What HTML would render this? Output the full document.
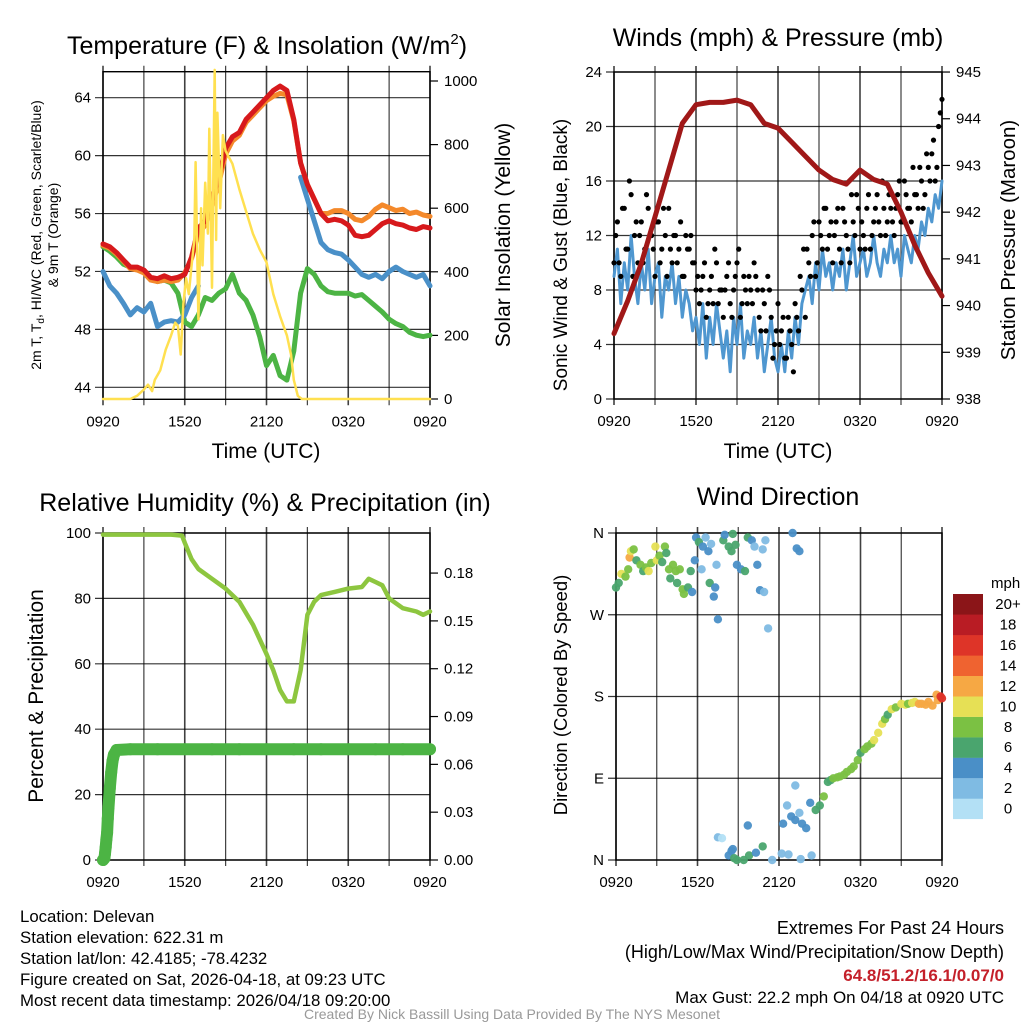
<!DOCTYPE html>
<html><head><meta charset="utf-8">
<style>
html,body{margin:0;padding:0;background:#fff;}
svg{display:block;font-family:"Liberation Sans",sans-serif;}
</style></head>
<body>
<svg id="c" width="1024" height="1024" viewBox="0 0 1024 1024" xmlns="http://www.w3.org/2000/svg">
<rect x="0" y="0" width="1024" height="1024" fill="#fff"/>
<text x="267" y="54" font-size="25" text-anchor="middle">Temperature (F) &amp; Insolation (W/m<tspan font-size="15" dy="-10">2</tspan><tspan dy="10">)</tspan></text>
<text x="778" y="46" font-size="25" text-anchor="middle">Winds (mph) &amp; Pressure (mb)</text>
<text x="265" y="511" font-size="25" text-anchor="middle">Relative Humidity (%) &amp; Precipitation (in)</text>
<text x="778" y="505" font-size="25" text-anchor="middle">Wind Direction</text>
<text x="266" y="458" font-size="21" text-anchor="middle">Time (UTC)</text>
<text x="778" y="458" font-size="21" text-anchor="middle">Time (UTC)</text>
<text transform="translate(41,235) rotate(-90)" font-size="14" text-anchor="middle">2m T, T<tspan font-size="10" dy="3">d</tspan><tspan dy="-3">, HI/WC (Red, Green, Scarlet/Blue)</tspan></text>
<text transform="translate(58,235) rotate(-90)" font-size="14" text-anchor="middle">&amp; 9m T (Orange)</text>
<text transform="translate(510,235) rotate(-90)" font-size="21" text-anchor="middle">Solar Insolation (Yellow)</text>
<text transform="translate(567,255) rotate(-90)" font-size="19" text-anchor="middle">Sonic Wind &amp; Gust (Blue, Black)</text>
<text transform="translate(1015,240) rotate(-90)" font-size="20.5" text-anchor="middle">Station Pressure (Maroon)</text>
<text transform="translate(43,696) rotate(-90)" font-size="21" text-anchor="middle">Percent &amp; Precipitation</text>
<text transform="translate(567,695) rotate(-90)" font-size="18.5" text-anchor="middle">Direction (Colored By Speed)</text>
<g font-size="16.8">
<text x="20" y="922">Location: Delevan</text>
<text x="20" y="943">Station elevation: 622.31 m</text>
<text x="20" y="964">Station lat/lon: 42.4185; -78.4232</text>
<text x="20" y="985">Figure created on Sat, 2026-04-18, at 09:23 UTC</text>
<text x="20" y="1006">Most recent data timestamp: 2026/04/18 09:20:00</text>
</g>
<g text-anchor="end">
<text x="1004" y="934" font-size="18">Extremes For Past 24 Hours</text>
<text x="1004" y="958" font-size="18">(High/Low/Max Wind/Precipitation/Snow Depth)</text>
<text x="1004" y="981" font-size="17" fill="#c4202a" font-weight="bold">64.8/51.2/16.1/0.07/0</text>
<text x="1004" y="1003" font-size="17">Max Gust: 22.2 mph On 04/18 at 0920 UTC</text>
</g>
<text x="512" y="1019" font-size="14" fill="#999" text-anchor="middle">Created By Nick Bassill Using Data Provided By The NYS Mesonet</text>
</svg>
<script>
// ---------- data ----------
const hT = [0,0.5,1,1.5,2,2.5,3,3.5,4,4.5,5,5.5,6,6.5,7,7.5,8,8.5,9,9.5,10,10.5,11,11.5,12,12.5,13,13.5,14,14.5,15,15.5,16,16.5,17,17.5,18,18.5,19,19.5,20,20.5,21,21.5,22,22.5,23,23.5,24];
const tempRed = [53.9,53.7,53.3,52.8,52.3,52.3,52.1,51.6,51.5,51.7,51.5,51.6,51.8,53.0,55.0,55.5,57.0,58.5,60.5,61.3,61.6,62.5,63.0,63.5,64.0,64.5,64.8,64.5,62.5,59.5,58.0,57.0,56.0,55.5,55.6,55.5,55.2,54.5,54.4,54.5,54.9,55.3,55.5,55.3,55.2,55.0,54.9,55.1,55.0];
const temp9m = [53.8,53.6,53.2,52.7,52.2,52.1,51.9,51.4,51.3,51.4,51.3,51.4,51.9,52.9,54.6,55.2,56.6,58.1,60.1,61.0,61.4,62.3,62.8,63.3,63.8,64.1,64.3,64.2,62.4,59.5,58.0,57.0,56.0,56.0,56.2,56.2,56.0,55.6,55.5,55.8,56.3,56.6,56.4,56.2,56.3,56.0,56.1,55.9,55.8];
const heatWC = [52.0,51.0,50.5,49.8,49.0,49.5,49.2,49.8,48.2,48.5,48.6,48.5,49.0,50.2,51.0,null,null,null,null,null,null,null,null,null,null,null,null,null,null,58.5,57.0,55.5,54.0,53.5,53.3,53.2,52.8,52.3,51.8,51.6,51.8,51.5,52.0,52.3,52.0,51.8,51.6,51.8,51.0];
const dewpt = [53.7,53.4,53.0,52.5,52.3,52.2,52.0,51.5,51.3,51.4,51.2,50.5,48.5,48.2,49.0,50.2,50.0,50.5,50.8,51.8,50.5,50.0,49.0,47.5,45.5,46.2,44.8,44.5,46.5,50.5,52.2,51.8,51.0,50.6,50.5,50.5,50.5,50.3,50.4,50.0,49.6,49.2,48.7,48.4,48.2,47.8,47.6,47.5,47.6];
const solarT = [0,2,2.5,3,3.3,3.6,3.8,4.2,4.6,5.0,5.3,5.5,5.7,5.9,6.1,6.3,6.5,6.7,6.8,7.0,7.2,7.3,7.5,7.7,7.8,8.0,8.1,8.2,8.3,8.4,8.6,8.8,9.0,9.5,10,10.5,11,11.5,12,12.5,13,13.5,13.8,14,14.3,14.6,24];
const solarV = [0,0,10,30,45,25,60,90,155,200,240,230,140,300,380,330,420,500,745,250,600,420,680,520,850,350,720,1035,500,900,600,830,780,740,660,590,520,470,430,330,260,200,140,60,10,0,0];
const pressT = [0,1,2,3,4,5,6,7,8,9,10,11,12,13,14,15,16,17,18,19,20,21,22,23,24];
const pressure = [939.4,940.1,940.9,941.9,942.9,943.9,944.3,944.35,944.35,944.4,944.3,943.9,943.8,943.5,943.2,942.9,942.7,942.6,942.9,942.7,942.6,942.0,941.3,940.7,940.2];
const windSpd = [9,11,7,10,8,12,9,7,10, 8,11,7,9,10,6,9,8, 10,7,9,6,8,7,5,6, 4,7,3,6,4,7,5,3, 5,2,6,4,7,3,5,4, 6,3,5,2,4,6,3,2, 4,2,5,3,6,4,7,8, 9,7,10,8,11,9,10,8, 10,9,11,8,10,12,9,10, 11,9,10,12,10,9,11,10, 12,10,11,9,12,11,10,12, 11,13,12,14,13,15,14,16];
const gust = [10,13,9,14,11,15,12,10,13, 11,14,12,9,13,11,12,14, 10,12,11,9,12,11,10,8, 7,9,6,8,7,10,8,6, 9,7,8,10,6,9,7,8, 10,8,5,7,9,6,4,7, 5,3,6,4,7,5,8,6, 10,12,9,13,11,14,12,10, 13,11,14,12,10,13,15,11, 12,14,11,13,15,12,14,13, 14,12,15,13,16,14,13,15, 14,16,15,17,18,16,20,22];
const gustB = [12,10,14,11,16,9,13,12, 10,15,12,11,13,10,14,9, 11,12,10,13,9,11,12,10, 9,8,10,7,9,11,7,8, 8,10,6,9,11,7,8,9, 7,9,6,8,5,8,3,5, 4,6,3,5,2,6,9,11, 11,9,13,10,12,14,11,13, 12,14,10,13,11,15,12,14, 13,11,15,12,14,13,16,12, 15,13,14,16,13,15,14,17, 15,17,14,18,16,19,17,21];
const rhT = [0,1,2,3,4,5,5.8,6,6.5,7,8,9,10,11,12,12.5,13,13.5,14,14.5,15,15.5,16,17,18,19,19.5,20,20.5,21,22,23,23.5,24];
const rh = [99.5,99.5,99.5,99.5,99.5,99.5,99.2,97,92,89,86,83,79,72,63,58,52,48.5,48.5,58,75,79,81,82,83,83.5,86,85,84,80,77,76,75,76];
const precipT = [0,0.1,0.15,0.2,0.25,0.3,0.35,0.4,0.5,0.6,0.7,0.8,1,2,4,6,8,10,12,14,16,18,20,22,24];
const precip = [0,0.001,0.004,0.008,0.013,0.017,0.026,0.033,0.045,0.055,0.062,0.066,0.069,0.0695,0.0695,0.0695,0.0695,0.0695,0.0695,0.0695,0.0695,0.0695,0.0695,0.0695,0.0695];
const dirT = [0,0.2,0.4,0.7,0.9,1.0,1.1,1.3,1.5,1.8,2.0,2.2,2.4,2.6,2.9,3.0,3.2,3.4,3.6,3.7,3.9,4.0,4.2,4.4,4.5,4.7,4.9,5.0,5.3,5.5,5.6,5.8,5.9,6.1,6.3,6.4,6.6,6.8,6.9,7.0,7.2,7.3,7.4,7.5,7.9,8.0,8.3,8.5,8.6,8.8,8.9,9.2,9.5,9.7,10.0,10.2,10.4,10.6,10.8,11.0,10.9,11.2,13.0,13.3,13.5,
 7.5,7.8,8.6,8.5,8.3,8.7,8.9,9.4,9.8,10.3,9.7,10.8,11.5,12.2,12.7,13.6,14.4,12.3,12.6,12.9,13.2,13.5,13.7,14.0,14.3,13.2,14.7,15.0,15.3,
 15.6,15.8,16.0,16.3,16.5,16.8,17.0,17.3,17.5,17.8,18.0,18.3,18.5,18.8,19.0,19.3,19.6,19.8,20.0,20.3,20.6,21.0,21.3,21.5,21.8,22.0,22.3,22.5,22.8,23.0,23.3,23.6,23.7,23.9,24];
const dirDeg = [300,305,315,312,320,333,340,342,330,325,318,322,318,327,345,330,335,328,345,338,320,310,325,318,305,320,298,293,300,318,295,330,355,350,320,345,355,340,305,348,290,300,325,265,352,358,345,340,359,347,325,320,318,355,352,345,325,297,342,352,295,255,360,343,340,
 25,24,12,10,5,2,0,0,5,8,38,15,0,7,6,1,5,40,60,48,44,52,40,35,63,82,55,60,70,
 86,88,90,91,92,94,97,100,103,110,118,122,125,128,132,140,150,155,160,166,168,172,171,172,173,174,172,172,171,174,170,182,176,180,178];
const dirSpd = [6,7,10,9,8,13,10,9,6,8,7,8,10,9,10,10,8,7,8,6,8,7,8,8,6,8,8,9,6,6,4,5,4,6,3,4,3,4,6,3,4,5,3,4,6,4,6,6,6,6,4,4,6,6,4,2,4,4,2,2,2,2,4,4,4,
 2,0,4,4,4,6,6,6,6,4,4,6,2,2,2,2,2,4,2,4,4,2,4,4,4,2,6,6,8,
 6,7,8,8,8,8,8,8,8,8,6,8,8,8,10,10,10,8,6,10,8,10,10,8,10,10,12,12,12,12,12,12,12,16,16];
const cbLabels = ["0","2","4","6","8","10","12","14","16","18","20+"];
const cbColors = ["#b3e0f5","#7fbbe3","#4a8fc7","#4aa56e","#7bc143","#e6e055","#f6a844","#ef6330","#de3428","#b91c24","#8b1518"];
const timeLabels = ["0920","1520","2120","0320","0920"];
const tempTicks = [44,48,52,56,60,64];
const solarTicks = [0,200,400,600,800,1000];
const windTicks = [0,4,8,12,16,20,24];
const pressTicks = [938,939,940,941,942,943,944,945];
const rhTicks = [0,20,40,60,80,100];
const prTicks = ["0.00","0.03","0.06","0.09","0.12","0.15","0.18"];
const dirLabels = ["N","E","S","W","N"];

// ---------- scales ----------
const X1 = t => 103 + t*327/24;
const YT = v => 387.3 - (v-44)*14.48;
const YI = v => 399 - v*0.318;
const X2 = t => 614 + t*328/24;
const YW = v => 399 - v*13.625;
const YP = v => 399 - (v-938)*46.71;
const X3 = t => 103 + t*327/24;
const YR = v => 860 - v*3.27;
const YPr = v => 860 - v*1594;
const X4 = t => 616 + t*326/24;
const YD = d => 860 - d*327/360;

const NS = "http://www.w3.org/2000/svg";
const svg = document.getElementById('c');
function mk(tag, attrs, parent){ const e=document.createElementNS(NS,tag); for(const k in attrs) e.setAttribute(k,attrs[k]); (parent||svg).appendChild(e); return e; }
function pathD(xs, ys, fx, fy){ let d=''; let pen=false; for(let i=0;i<xs.length;i++){ if(ys[i]===null){pen=false;continue;} d += (pen?'L':'M') + fx(xs[i]).toFixed(1) + ',' + fy(ys[i]).toFixed(1); pen=true; } return d; }

// ---------- frames/grids ----------
function panel(name, x0,x1,y0,y1, yl, yr, yFn, yrFn, ylabels, yrlabels){
  const g = mk('g',{});
  
  
  for(let h=0;h<=24;h+=3){
    const x = x0 + h*(x1-x0)/24;
    const ln = mk('line',{x1:x,x2:x,y1:y0-6,y2:y1+6,stroke:'#000','stroke-width':(h%6?1.2:1.6),'stroke-opacity':0.75},g);
    
    
  }
  yl.forEach((v,i)=>{
    const y=yFn(v);
    const ln = mk('line',{x1:x0-8,x2:x1,y1:y,y2:y,stroke:'#000','stroke-width':1.2,'stroke-opacity':0.8},g);
    
    
    const tx = mk('text',{x:x0-12,y:y+5,'font-size':15,'text-anchor':'end'},g);
    tx.textContent = ylabels[i];
    
    
  });
  if(yr){
    yr.forEach((v,i)=>{
      const y=yrFn(v);
      const ln = mk('line',{x1:x1,x2:x1+8,y1:y,y2:y,stroke:'#000','stroke-width':1.2},g);
      
      
      const tx = mk('text',{x:x1+14,y:y+5,'font-size':15},g);
      tx.textContent = yrlabels[i];
      
      
    });
  }
  const fr = mk('rect',{x:x0,y:y0,width:x1-x0,height:y1-y0,fill:'none',stroke:'#000','stroke-width':1.4},g);
  
  
  timeLabels.forEach((l,i)=>{
    const tx = mk('text',{x:x0+i*(x1-x0)/4,y:y1+27,'font-size':15,'text-anchor':'middle'},g);
    tx.textContent = l;
    
    
  });
}
panel('temperature',103,430,71.7,399.3,tempTicks,solarTicks,YT,YI,tempTicks.map(String),solarTicks.map(String));
panel('winds',614,942,72,399,windTicks,pressTicks,YW,YP,windTicks.map(String),pressTicks.map(String));
panel('humidity',103,430,533,860,rhTicks,prTicks.map(Number),YR,YPr,rhTicks.map(String),prTicks);
panel('direction',616,942,533,860,[0,90,180,270,360],null,YD,null,dirLabels,null);

function line(xs,ys,fx,fy,color,w,name){
  const p = mk('path',{d:pathD(xs,ys,fx,fy),fill:'none',stroke:color,'stroke-width':w,'stroke-linejoin':'round','stroke-linecap':'round'});
  
  
  return p;
}
// ---------- temperature ----------
line(hT,dewpt,X1,YT,'#4cb444',5,'dewpoint-line');
line(hT,heatWC,X1,YT,'#4a90c8',5,'heat-index-windchill-line');
line(hT,temp9m,X1,YT,'#f4892b',5,'temperature-9m-line');
line(hT,tempRed,X1,YT,'#d7191c',5,'temperature-2m-line');
line(solarT,solarV,X1,YI,'#ffe050',2.5,'solar-insolation-line');

// ---------- winds ----------
const qT = windSpd.map((v,i)=>i*0.25);
line(qT,windSpd,X2,YW,'#4f97d0',3,'sonic-wind-line');
gust.forEach((v,i)=>{
  const c = mk('circle',{cx:X2(i*0.25).toFixed(1),cy:YW(v).toFixed(1),r:2.6,fill:'#000'});
  
  
});
gustB.forEach((v,i)=>{
  const c = mk('circle',{cx:X2(0.125+i*0.25).toFixed(1),cy:YW(v).toFixed(1),r:2.6,fill:'#000'});
  
  
});
line(pressT,pressure,X2,YP,'#a01818',5,'pressure-line');

// ---------- humidity / precip ----------
line(rhT,rh,X3,YR,'#8dc63f',4.5,'relative-humidity-line');
line(precipT,precip,X3,YPr,'#4cb444',12,'precipitation-line');
precipT.forEach((t,i)=>{
  const c = mk('circle',{cx:X3(t).toFixed(1),cy:YPr(precip[i]).toFixed(1),r:6,fill:'#4cb444'});
  
  
});

// ---------- wind direction ----------
dirT.forEach((t,i)=>{
  const ci = Math.min(10, Math.floor(dirSpd[i]/2));
  const c = mk('circle',{cx:X4(t).toFixed(1),cy:YD(dirDeg[i]).toFixed(1),r:4.2,fill:cbColors[ci],'fill-opacity':0.95});
  
  
});
const mph = mk('text',{x:991,y:588,'font-size':15});
mph.textContent='mph';


cbColors.forEach((col,i)=>{
  const y = 819 - (i+1)*20.45;
  const r = mk('rect',{x:953,y:y.toFixed(1),width:30,height:20.6,fill:col});
  
  
  const tx = mk('text',{x:1008,y:(y+15).toFixed(1),'font-size':15,'text-anchor':'middle'});
  tx.textContent = cbLabels[i];
  
  
});
</script>
</body></html>
